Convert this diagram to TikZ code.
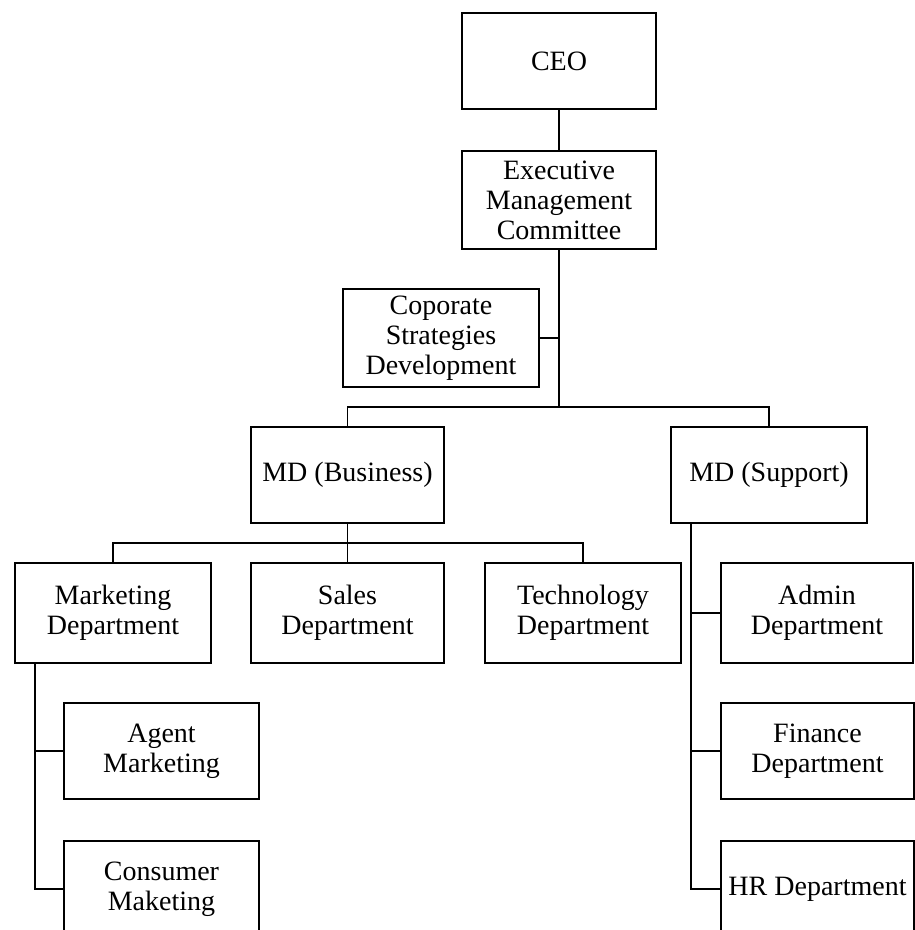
\documentclass[tikz,border=0pt]{standalone}
\usepackage{fontspec}
\setmainfont{Liberation Serif}
\begin{document}
\begin{tikzpicture}[x=1pt,y=-1pt,
  box/.style={draw, line width=1.6pt, align=center, inner sep=1pt,
              font=\fontsize{28}{30}\selectfont},
  link/.style={line width=1.6pt}]
\useasboundingbox (0,0) rectangle (915,930);
\clip (0,0) rectangle (915,930);

% top of the hierarchy
\node[box, minimum width=194pt, minimum height=96pt] (ceo) at (559,61) {CEO};
\node[box, minimum width=194pt, minimum height=98pt] (emc) at (559,200)
  {Executive\\Management\\Committee};
\node[box, minimum width=196pt, minimum height=98pt] (csd) at (441,338)
  {Coporate\\Strategies\\Development};

% managing directors
\node[box, minimum width=193pt, minimum height=96pt] (mdb) at (347.5,475) {MD (Business)};
\node[box, minimum width=196pt, minimum height=96pt] (mds) at (769,475) {MD (Support)};

% business departments
\node[box, minimum width=196pt, minimum height=100pt] (mkt) at (113,613) {Marketing\\Department};
\node[box, minimum width=193pt, minimum height=100pt] (sal) at (347.5,613) {Sales\\Department};
\node[box, minimum width=196pt, minimum height=100pt] (tec) at (583,613) {Technology\\Department};
\node[box, minimum width=195pt, minimum height=96pt] (agt) at (161.5,751) {Agent\\Marketing};
\node[box, minimum width=195pt, minimum height=96pt] (con) at (161.5,889) {Consumer\\Maketing};

% support departments
\node[box, minimum width=192pt, minimum height=100pt] (adm) at (817,613) {Admin\\Department};
\node[box, minimum width=193pt, minimum height=96pt] (fin) at (817.5,751) {Finance\\Department};
\node[box, minimum width=193pt, minimum height=96pt] (hr) at (817.5,889) {HR Department};

% junction points
\coordinate (j1) at (559,407);
\coordinate (j2) at (347.5,543);
\coordinate (mtrunk) at ([xshift=21pt]mkt.south west);
\coordinate (strunk) at ([xshift=21pt]mds.south west);

% connectors
\draw[link] (ceo) -- (emc);
\draw[link] (emc.south) -- (j1);
\draw[link] (csd.east) -- (csd.east -| emc.south);
\draw[link] (mdb.north) |- (j1) -| (mds.north);
\draw[link] (mdb.south) -- (j2);
\draw[link] (mkt.north) |- (j2) -| (tec.north);
\draw[link] (j2) -- (sal.north);
\draw[link] (mtrunk) |- (con.west);
\draw[link] (agt.west) -- (agt.west -| mtrunk);
\draw[link] (strunk) |- (hr.west);
\draw[link] (adm.west) -- (adm.west -| strunk);
\draw[link] (fin.west) -- (fin.west -| strunk);
\end{tikzpicture}
\end{document}
